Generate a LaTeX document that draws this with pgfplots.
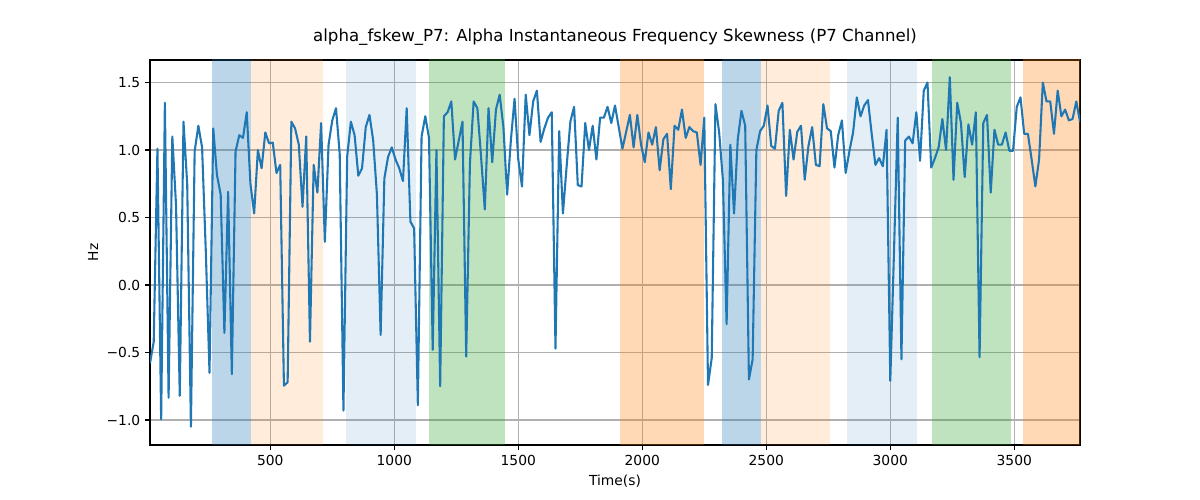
\documentclass[border=0pt]{standalone}
\usepackage{fontspec}
\setmainfont{DejaVu Sans}
\usepackage{pgfplots}
\pgfplotsset{compat=1.18}
\definecolor{tabblue}{HTML}{1F77B4}
\definecolor{taborange}{HTML}{FF7F0E}
\definecolor{tabgreen}{HTML}{2CA02C}
\definecolor{gridgray}{HTML}{B0B0B0}
\begin{document}
\begin{tikzpicture}
\begin{axis}[
  at={(0,0)}, anchor=south west,
  scale only axis, width=669.6bp, height=277.2bp,
  xmin=15, xmax=3765, ymin=-1.185, ymax=1.667,
  xtick={500,1000,1500,2000,2500,3000,3500},
  xticklabels={500,1000,1500,2000,2500,3000,3500},
  ytick={-1,-0.5,0,0.5,1,1.5},
  yticklabels={−1.0,−0.5,0.0,0.5,1.0,1.5},
  xtick pos=left, ytick pos=left,
  tick label style={font=\fontsize{10}{12}\selectfont},
  tick align=outside, major tick length=3.5bp,
  tick style={black, line width=0.8bp},
  axis line style={black, line width=0.8bp},
  grid=major, grid style={gridgray, line width=0.8bp},
  title={alpha\_fskew\_P7: Alpha Instantaneous Frequency Skewness (P7 Channel)},
  title style={at={(axis description cs:0.5,1.039)}, anchor=center, font=\fontsize{12}{14}\selectfont},
  xlabel={Time(s)},
  xlabel style={at={(axis description cs:0.5,-0.0935)}, anchor=center, font=\fontsize{10}{12}\selectfont},
  ylabel={Hz},
  ylabel style={at={(axis description cs:-0.0613,0.5)}, anchor=center, rotate=0, font=\fontsize{10}{12}\selectfont},
]
\addplot[draw=none, fill=tabblue, fill opacity=0.3, forget plot] coordinates {(266,-2) (421,-2) (421,2) (266,2)} -- cycle;
\addplot[draw=none, fill=taborange, fill opacity=0.15, forget plot] coordinates {(421,-2) (714,-2) (714,2) (421,2)} -- cycle;
\addplot[draw=none, fill=tabblue, fill opacity=0.12, forget plot] coordinates {(806,-2) (1087,-2) (1087,2) (806,2)} -- cycle;
\addplot[draw=none, fill=tabgreen, fill opacity=0.3, forget plot] coordinates {(1141,-2) (1445,-2) (1445,2) (1141,2)} -- cycle;
\addplot[draw=none, fill=taborange, fill opacity=0.3, forget plot] coordinates {(1911,-2) (2250,-2) (2250,2) (1911,2)} -- cycle;
\addplot[draw=none, fill=tabblue, fill opacity=0.3, forget plot] coordinates {(2323,-2) (2477,-2) (2477,2) (2323,2)} -- cycle;
\addplot[draw=none, fill=taborange, fill opacity=0.15, forget plot] coordinates {(2477,-2) (2757,-2) (2757,2) (2477,2)} -- cycle;
\addplot[draw=none, fill=tabblue, fill opacity=0.12, forget plot] coordinates {(2827,-2) (3109,-2) (3109,2) (2827,2)} -- cycle;
\addplot[draw=none, fill=tabgreen, fill opacity=0.3, forget plot] coordinates {(3169,-2) (3488,-2) (3488,2) (3169,2)} -- cycle;
\addplot[draw=none, fill=taborange, fill opacity=0.3, forget plot] coordinates {(3536,-2) (3800,-2) (3800,2) (3536,2)} -- cycle;
\addplot[color=tabblue, line width=1.5bp, mark=none, line join=round] table[row sep=\\] {
x y\\
15 -0.58\\ 30 -0.42\\ 45 1.01\\ 60 -0.995\\ 75 1.35\\ 90 -0.835\\ 105 1.10\\ 120 0.59\\ 135 -0.82\\ 150 1.21\\
165 0.75\\ 180 -1.05\\ 195 0.99\\ 210 1.18\\ 225 1.02\\ 240 0.25\\ 255 -0.65\\ 270 1.16\\ 285 0.815\\ 300 0.67\\
315 -0.355\\ 330 0.69\\ 345 -0.66\\ 360 0.99\\ 375 1.11\\ 390 1.09\\ 405 1.28\\ 420 0.75\\ 435 0.53\\ 450 1.0\\
465 0.865\\ 480 1.13\\ 495 1.05\\ 510 1.055\\ 525 0.83\\ 540 0.89\\ 555 -0.745\\ 570 -0.72\\ 585 1.21\\ 600 1.16\\
615 1.04\\ 630 0.58\\ 645 1.10\\ 660 -0.42\\ 675 0.89\\ 690 0.685\\ 705 1.20\\ 720 0.32\\ 735 1.04\\ 750 1.22\\
765 1.31\\ 780 0.97\\ 795 -0.93\\ 810 0.95\\ 825 1.21\\ 840 1.11\\ 855 0.81\\ 870 0.865\\ 885 1.17\\ 900 1.26\\
915 1.07\\ 930 0.67\\ 945 -0.37\\ 960 0.79\\ 975 0.95\\ 990 1.02\\ 1005 0.93\\ 1020 0.865\\ 1035 0.77\\ 1050 1.31\\
1065 0.47\\ 1080 0.42\\ 1095 -0.89\\ 1110 1.10\\ 1125 1.25\\ 1140 1.09\\ 1155 -0.48\\ 1170 1.0\\ 1185 -0.75\\ 1200 1.25\\
1215 1.28\\ 1230 1.36\\ 1245 0.93\\ 1260 1.07\\ 1275 1.21\\ 1290 -0.53\\ 1305 0.90\\ 1320 1.36\\ 1335 1.31\\ 1350 0.95\\
1365 0.56\\ 1380 1.31\\ 1395 0.91\\ 1410 1.30\\ 1425 1.41\\ 1440 1.17\\ 1455 0.67\\ 1470 1.07\\ 1485 1.38\\ 1500 0.93\\
1515 0.73\\ 1530 1.41\\ 1545 1.11\\ 1560 1.36\\ 1575 1.44\\ 1590 1.06\\ 1605 1.16\\ 1620 1.24\\ 1635 1.28\\ 1650 -0.47\\
1665 1.14\\ 1680 0.53\\ 1695 0.88\\ 1710 1.21\\ 1725 1.32\\ 1740 0.74\\ 1755 0.73\\ 1770 1.20\\ 1785 1.0\\ 1800 1.18\\
1815 0.93\\ 1830 1.24\\ 1845 1.24\\ 1860 1.32\\ 1875 1.20\\ 1890 1.33\\ 1905 1.17\\ 1920 1.01\\ 1935 1.135\\ 1950 1.26\\
1965 1.02\\ 1980 1.26\\ 1995 1.04\\ 2010 0.91\\ 2025 1.13\\ 2040 1.04\\ 2055 1.17\\ 2070 0.85\\ 2085 1.08\\ 2100 1.12\\
2115 0.71\\ 2130 1.18\\ 2145 1.15\\ 2160 1.30\\ 2175 1.09\\ 2190 1.17\\ 2205 1.14\\ 2220 1.13\\ 2235 0.89\\ 2250 1.24\\
2265 -0.74\\ 2280 -0.54\\ 2295 1.34\\ 2310 1.13\\ 2325 0.78\\ 2340 -0.29\\ 2355 1.04\\ 2370 0.53\\ 2385 1.08\\ 2400 1.29\\
2415 1.18\\ 2430 -0.70\\ 2445 -0.55\\ 2460 1.0\\ 2475 1.14\\ 2490 1.18\\ 2505 1.33\\ 2520 1.03\\ 2535 1.01\\ 2550 1.29\\
2565 1.35\\ 2580 0.66\\ 2595 1.15\\ 2610 0.93\\ 2625 1.135\\ 2640 1.18\\ 2655 0.78\\ 2670 1.03\\ 2685 1.17\\ 2700 0.89\\
2715 0.88\\ 2730 1.34\\ 2745 1.16\\ 2760 1.14\\ 2775 0.87\\ 2790 1.11\\ 2805 1.22\\ 2820 0.83\\ 2835 0.99\\ 2850 1.13\\
2865 1.39\\ 2880 1.25\\ 2895 1.33\\ 2910 1.37\\ 2925 1.12\\ 2940 0.89\\ 2955 0.94\\ 2970 0.88\\ 2985 1.15\\ 3000 -0.71\\
3015 0.25\\ 3030 1.24\\ 3045 -0.55\\ 3060 1.07\\ 3075 1.10\\ 3090 1.05\\ 3105 1.28\\ 3120 0.92\\ 3135 1.44\\ 3150 1.50\\
3165 0.87\\ 3180 0.94\\ 3195 1.02\\ 3210 1.23\\ 3225 1.0\\ 3240 1.54\\ 3255 0.78\\ 3270 1.35\\ 3285 1.20\\ 3300 0.80\\
3315 1.19\\ 3330 1.04\\ 3345 1.28\\ 3360 -0.535\\ 3375 1.20\\ 3390 1.26\\ 3405 0.685\\ 3420 1.15\\ 3435 1.04\\ 3450 1.04\\
3465 1.13\\ 3480 0.995\\ 3495 0.995\\ 3510 1.32\\ 3525 1.39\\ 3540 1.12\\ 3555 1.12\\ 3570 0.93\\ 3585 0.73\\ 3600 0.93\\
3615 1.50\\ 3630 1.36\\ 3645 1.36\\ 3660 1.12\\ 3675 1.44\\ 3690 1.25\\ 3705 1.30\\ 3720 1.22\\ 3735 1.23\\ 3750 1.36\\
3765 1.21\\
};
\end{axis}
\path[use as bounding box] (-108bp,-39.6bp) rectangle (756bp,320.4bp);
\end{tikzpicture}
\end{document}
